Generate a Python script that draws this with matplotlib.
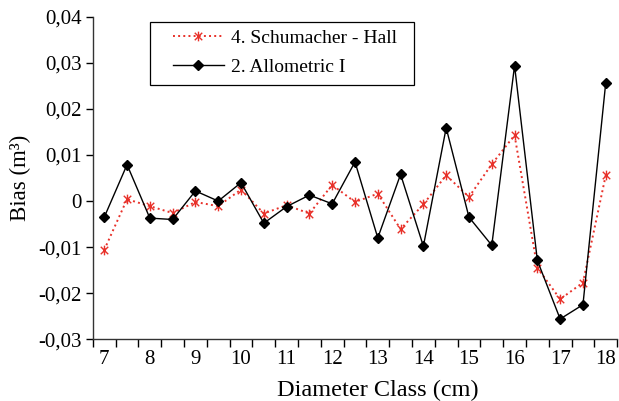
import numpy as np
import matplotlib.pyplot as plt
from matplotlib.path import Path
from matplotlib.patches import Rectangle

plt.rcParams['font.family'] = ['Liberation Serif', 'DejaVu Serif']

diameter = [7, 7.5, 8, 8.5, 9, 9.5, 10, 10.5, 11, 11.5, 12, 12.5,
            13, 13.5, 14, 14.5, 15, 15.5, 16, 16.5, 17, 17.5, 18]
schumacher = [-0.0106, 0.0004, -0.0011, -0.0026, -0.0002, -0.0011, 0.0025, -0.0027,
              -0.0009, -0.0027, 0.0035, -0.0002, 0.0016, -0.0061, -0.0007, 0.0056,
              0.0009, 0.0080, 0.0143, -0.0145, -0.0213, -0.0177, 0.0056]
allometric = [-0.0035, 0.0079, -0.0037, -0.0040, 0.0022, 0.0000, 0.0040, -0.0048,
              -0.0012, 0.0013, -0.0006, 0.0085, -0.0080, 0.0058, -0.0098, 0.0159,
              -0.0035, -0.0096, 0.0294, -0.0129, -0.0256, -0.0225, 0.0257]
yticks = [-0.03, -0.02, -0.01, 0, 0.01, 0.02, 0.03, 0.04]
ytick_labels = ["-0,03", "-0,02", "-0,01", "0", "0,01", "0,02", "0,03", "0,04"]

# excel style star marker: x with a vertical bar
star = Path([(-1, -1), (1, 1), (-1, 1), (1, -1), (0, -1.3), (0, 1.3)],
            [Path.MOVETO, Path.LINETO, Path.MOVETO, Path.LINETO, Path.MOVETO, Path.LINETO])

fig = plt.figure(figsize=(6.19, 4.01), dpi=100)
ax = fig.add_axes([0.150, 0.154, 0.847, 0.804])

x = np.arange(len(diameter))
ax.plot(x, schumacher, color="#e8312a", linestyle=":", linewidth=1.4,
        marker=star, markersize=7, markeredgewidth=1.0, label="4. Schumacher - Hall")
ax.plot(x, allometric, color="black", linewidth=1.0,
        marker="D", markersize=5.5, label="2. Allometric I")

ax.set_xlim(-0.5, len(diameter) - 0.5)
ax.set_ylim(-0.03, 0.04)
ax.set_yticks(yticks)
ax.set_yticklabels(ytick_labels)

# ticks between categories, labels on every whole diameter
ax.set_xticks(np.arange(-0.5, len(diameter), 1.0))
ax.set_xticklabels([])
lab_pos = [i for i, d in enumerate(diameter) if d == int(d)]
ax.set_xticks(lab_pos, minor=True)
ax.set_xticklabels([str(int(diameter[i])) for i in lab_pos], minor=True)
ax.tick_params(axis="x", which="minor", length=0, labelsize=15, pad=8)
ax.tick_params(axis="x", which="major", length=6, width=1.0, direction="out")
ax.tick_params(axis="y", length=5, width=1.0, labelsize=15, direction="out", pad=3)

for s in ("top", "right"):
    ax.spines[s].set_visible(False)
for s in ("left", "bottom"):
    ax.spines[s].set_color("#333333")
    ax.spines[s].set_linewidth(1.0)

ax.set_xlabel("Diameter Class (cm)", fontsize=17.5)
ax.xaxis.set_label_coords(0.543, -0.125)
ax.set_ylabel("Bias (m³)", fontsize=16.5, labelpad=5)

# legend box drawn separately so the padding can match
fig.patches.append(Rectangle((150 / 619, 1 - 85 / 401), 264 / 619, 63 / 401,
                             transform=fig.transFigure, fill=False,
                             edgecolor="black", linewidth=0.9))
leg = ax.legend(loc="upper left", bbox_to_anchor=(173 / 619, 1 - 29 / 401),
                bbox_transform=fig.transFigure, fontsize=14, frameon=False,
                borderpad=0, borderaxespad=0, handlelength=2.6,
                handletextpad=0.4, labelspacing=0.6)

plt.savefig("out.png", dpi=100)
